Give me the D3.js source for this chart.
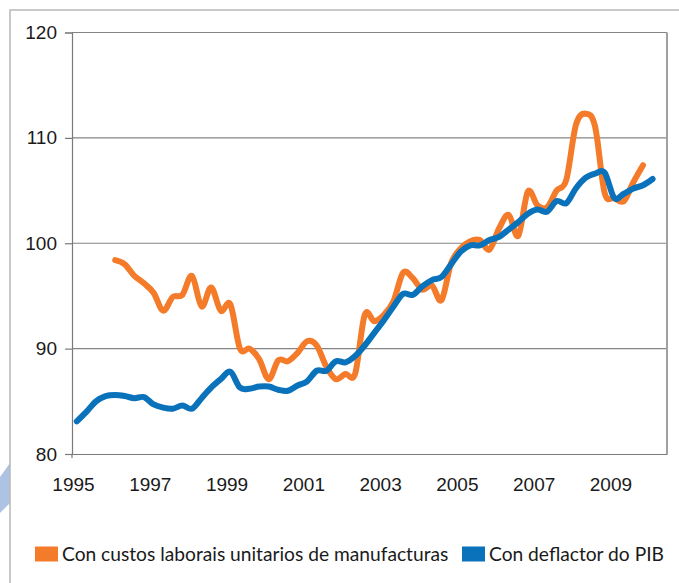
<!DOCTYPE html>
<html>
<head>
<meta charset="utf-8">
<script src="https://cdn.jsdelivr.net/npm/d3@7"></script>
<style>
  body { margin: 0; background: #fff; }
  svg { display: block; font-family: Lato, "Open Sans", sans-serif; }
</style>
</head>
<body>
<div id="chart"></div>
<script>
// quarterly series, 1995T1 .. 2010T2
const years = ['1995', '1996', '1997', '1998', '1999', '2000', '2001', '2002',
  '2003', '2004', '2005', '2006', '2007', '2008', '2009', '2010'];
const quarters = ['T1', 'T2', 'T3', 'T4'];
const categories = years.flatMap(y => quarters.map(q => y + q)).slice(0, 62);

const labelYears = ['1995', '1997', '1999', '2001', '2003', '2005', '2007', '2009'];
const yTicks = [80, 90, 100, 110, 120];

const seriesNames = ['Con custos laborais unitarios de manufacturas', 'Con deflactor do PIB'];

const custos = [null, null, null, null,
  98.4, 98.0, 96.9, 96.2, 95.3, 93.6, 94.9, 95.1,
  96.9, 94.0, 95.8, 93.6, 94.2, 90.0, 90.0, 89.0,
  87.1, 88.9, 88.8, 89.6, 90.7, 90.3, 88.3, 87.1,
  87.6, 87.6, 93.2, 92.6, 93.2, 94.5, 97.2, 96.7,
  95.6, 96.0, 94.6, 98.1, 99.5, 100.2, 100.3, 99.4,
  101.4, 102.7, 100.7, 104.9, 103.6, 103.4, 105.0, 106.0,
  111.2, 112.3, 111.1, 104.8, 104.3, 104.0, 105.8, 107.4];

const deflactor = [83.1, 84.0, 85.0, 85.5, 85.6, 85.5, 85.3, 85.4,
  84.7, 84.4, 84.3, 84.6, 84.3, 85.3, 86.3, 87.1,
  87.8, 86.3, 86.2, 86.4, 86.4, 86.1, 86.0, 86.5,
  86.9, 87.9, 87.9, 88.8, 88.7, 89.3, 90.3, 91.5,
  92.7, 94.0, 95.2, 95.1, 95.9, 96.5, 96.8, 98.0,
  99.2, 99.8, 99.8, 100.3, 100.6, 101.3, 102.0, 102.8,
  103.2, 103.0, 104.0, 103.8, 105.2, 106.2, 106.6, 106.7,
  104.3, 104.7, 105.2, 105.5, 106.1];

const colors = ['#f47b2a', '#0a72ba'];

const width = 679, height = 583;
const margin = {top: 32.5, right: 12, bottom: 129, left: 72};
const w = width - margin.left - margin.right;
const h = height - margin.top - margin.bottom;

const svg = d3.select('#chart').append('svg')
  .attr('width', width)
  .attr('height', height);

// page frame and decoration
svg.append('path')
  .attr('d', 'M0,477L10,463L10,503L0,513Z')
  .attr('fill', '#aec3e4');
svg.append('path')
  .attr('d', 'M10,583V10H679')
  .attr('fill', 'none')
  .attr('stroke', '#b8b8b8')
  .attr('stroke-width', 1.5);

const g = svg.append('g')
  .attr('transform', 'translate(' + margin.left + ',' + margin.top + ')');

const x = d3.scaleBand()
  .domain(categories)
  .range([0, w]);

const y = d3.scaleLinear()
  .domain([80, 120])
  .range([h, 0]);

const cx = d => x(d) + x.bandwidth() / 2;

// gridlines
g.selectAll('.grid')
  .data(yTicks.slice(1))
  .enter().append('line')
  .attr('class', 'grid')
  .attr('x1', 0)
  .attr('x2', w)
  .attr('y1', d => y(d))
  .attr('y2', d => y(d))
  .attr('stroke', '#858585')
  .attr('stroke-width', 1.2);

// right border of plot
g.append('line')
  .attr('x1', w).attr('x2', w)
  .attr('y1', 0).attr('y2', h)
  .attr('stroke', '#a0a0a0')
  .attr('stroke-width', 2);

// y axis
const yAxis = g.append('g')
  .call(d3.axisLeft(y).tickValues(yTicks).tickSize(7).tickPadding(8));
yAxis.select('.domain').attr('stroke', '#7a7a7a').attr('stroke-width', 1.2);
yAxis.selectAll('.tick line').attr('stroke', '#7a7a7a').attr('stroke-width', 1.2);
yAxis.selectAll('.tick text')
  .attr('fill', '#1a1a1a')
  .style('font-size', '19px');

// x axis
const xAxis = g.append('g')
  .attr('transform', 'translate(0,' + h + ')')
  .call(d3.axisBottom(x)
    .tickValues(labelYears.map(yr => yr + 'T1'))
    .tickFormat(d => d.slice(0, 4))
    .tickSize(0)
    .tickPadding(24));
xAxis.select('.domain').attr('stroke', '#7a7a7a').attr('stroke-width', 1.2);
xAxis.selectAll('.tick text')
  .attr('dx', -x.bandwidth() / 2 + 1.5)
  .attr('fill', '#1a1a1a')
  .style('font-size', '19px');
g.append('line')
  .attr('x1', 0).attr('x2', 0)
  .attr('y1', h).attr('y2', h + 4)
  .attr('stroke', '#7a7a7a')
  .attr('stroke-width', 1.2);

// lines
const line = d3.line()
  .defined(d => d.v !== null)
  .x(d => cx(d.c))
  .y(d => y(d.v))
  .curve(d3.curveCardinal.tension(0));

[custos, deflactor].forEach((vals, i) => {
  const pts = vals.map((v, k) => ({c: categories[k], v: v}));
  g.append('path')
    .datum(pts)
    .attr('fill', 'none')
    .attr('stroke', colors[i])
    .attr('stroke-width', 6)
    .attr('stroke-linecap', 'round')
    .attr('stroke-linejoin', 'round')
    .attr('d', line);
});

// legend
const legend = svg.append('g')
  .attr('transform', 'translate(35,546.5)');
const item1 = legend.append('g');
item1.append('rect').attr('width', 23).attr('height', 15).attr('fill', colors[0]);
item1.append('text').attr('x', 27).attr('y', 14.5)
  .attr('fill', '#1a1a1a').style('font-size', '19.2px')
  .text(seriesNames[0]);
const item2 = legend.append('g').attr('transform', 'translate(427,0)');
item2.append('rect').attr('width', 23).attr('height', 15).attr('fill', colors[1]);
item2.append('text').attr('x', 27).attr('y', 14.5)
  .attr('fill', '#1a1a1a').style('font-size', '19.2px')
  .text(seriesNames[1]);
</script>
</body>
</html>
